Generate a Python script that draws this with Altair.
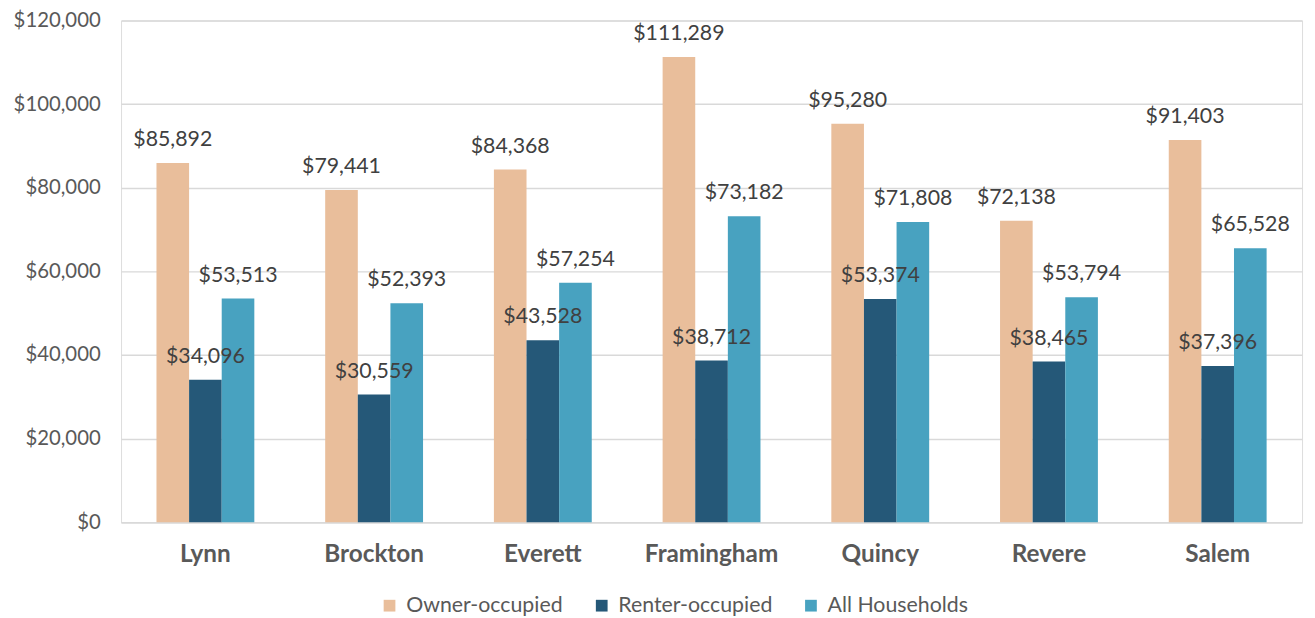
import altair as alt
import pandas as pd

cities = ["Lynn", "Brockton", "Everett", "Framingham", "Quincy", "Revere", "Salem"]
series = ["Owner-occupied", "Renter-occupied", "All Households"]
owner = [85892, 79441, 84368, 111289, 95280, 72138, 91403]
renter = [34096, 30559, 43528, 38712, 53374, 38465, 37396]
allhh = [53513, 52393, 57254, 73182, 71808, 53794, 65528]
colors = ["#E9BE9B", "#255878", "#48A2C0"]

rows = []
for i, c in enumerate(cities):
    for s, vals in zip(series, [owner, renter, allhh]):
        rows.append({"city": c, "series": s, "value": vals[i]})
df = pd.DataFrame(rows)

FONT = "Lato"
x = alt.X("city:N", sort=cities, title=None,
          scale=alt.Scale(paddingInner=0.42, paddingOuter=0.21),
          axis=alt.Axis(labelAngle=0, labelFont=FONT, labelFontSize=24.5, labelFontWeight="bold",
                        labelColor="#595959", ticks=False, domainColor="#d9d9d9", domainWidth=1.5,
                        labelPadding=21))
xo = alt.XOffset("series:N", sort=series)
y = alt.Y("value:Q", title=None,
          scale=alt.Scale(domain=[0, 120000]),
          axis=alt.Axis(values=list(range(0, 120001, 20000)), format="$,.0f", labelFont=FONT,
                        labelFontSize=20.5, labelColor="#595959", domain=False, ticks=False,
                        gridColor="#d9d9d9", gridWidth=1.5, labelPadding=21))
color = alt.Color("series:N", sort=series, scale=alt.Scale(domain=series, range=colors),
                  legend=alt.Legend(title=None, orient="none", legendX=260, legendY=579,
                                    direction="horizontal",
                                    symbolType="square", symbolSize=140, symbolStrokeWidth=0,
                                    labelFont=FONT, labelFontSize=21.5, labelColor="#595959",
                                    columnPadding=28, labelOffset=6))

base = alt.Chart(df).encode(x=x, xOffset=xo, y=y)
bars = base.mark_bar().encode(color=color)
labels = base.mark_text(dy=-12, baseline="bottom", font=FONT, fontSize=21.5, color="#404040").encode(
    text=alt.Text("value:Q", format="$,.0f"))

chart = (bars + labels).properties(
    width=1191, height=506,
    padding={"top": 0, "left": 5, "right": 5, "bottom": 5},
).configure_view(stroke=None).configure(background="white")
chart.save("out.html", embed_options={"renderer": "svg", "actions": False})
